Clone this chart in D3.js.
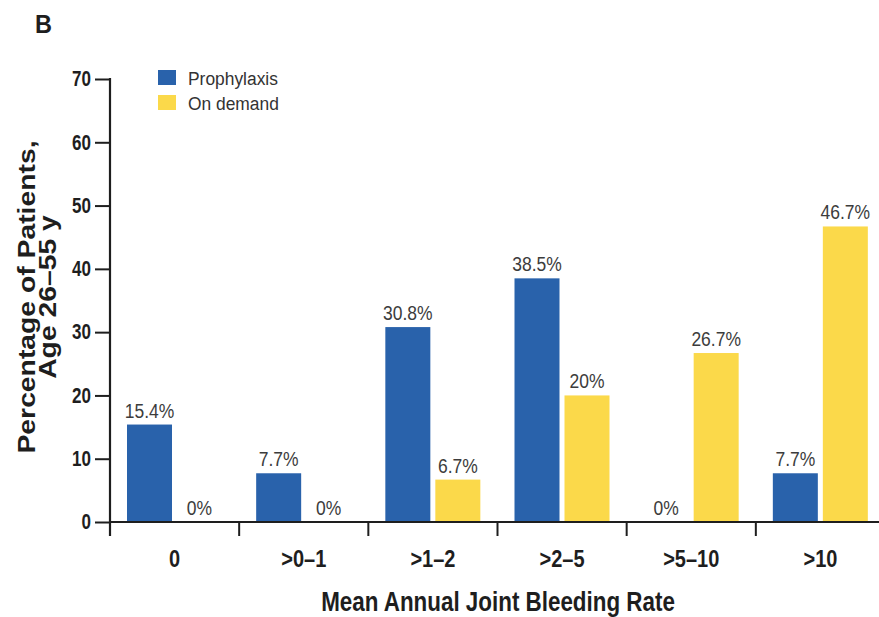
<!DOCTYPE html>
<html>
<head>
<meta charset="utf-8">
<script src="https://cdn.jsdelivr.net/npm/d3@7"></script>
<style>
  html, body { margin: 0; padding: 0; background: #fff; }
  svg { display: block; font-family: "Liberation Sans", Arial, Helvetica, sans-serif; }
</style>
</head>
<body>
<svg id="chart" width="879" height="617"></svg>
<script>
// Mean annual joint bleeding rate bins and share of patients (age 26–55 y)
const categories = ["0", ">0\u20131", ">1\u20132", ">2\u20135", ">5\u201310", ">10"];
const seriesNames = ["Prophylaxis", "On demand"];
const prophylaxis = [15.4, 7.7, 30.8, 38.5, 0, 7.7];
const onDemand = [0, 0, 6.7, 20, 26.7, 46.7];
const valueLabels = [
  ["15.4%", "7.7%", "30.8%", "38.5%", "0%", "7.7%"],
  ["0%", "0%", "6.7%", "20%", "26.7%", "46.7%"]
];
const yTicks = [0, 10, 20, 30, 40, 50, 60, 70];

const colors = ["#2962ab", "#fbd94a"];
const series = [prophylaxis, onDemand];
const ink = "#1e1e1e";
const tall = 1.2; // the typeface is set slightly taller than it is wide

const svg = d3.select("#chart");
const plotLeft = 110, plotRight = 885, plotTop = 79, plotBottom = 522;

const x0 = d3.scaleBand().domain(categories).range([plotLeft, plotRight]);
const x1 = d3.scaleBand().domain(seriesNames).range([17, 112]).paddingInner(0.1);
const y = d3.scaleLinear().domain([0, 70]).range([plotBottom, plotTop]);

// place a text at (x, y) with its glyphs stretched vertically around the baseline
function placeText(parent, x, yPos, str, sy) {
  return parent.append("text")
    .attr("transform", `translate(${x},${yPos}) scale(1,${sy})`)
    .text(str);
}

// Bars with value labels
categories.forEach((c, i) => {
  const g = svg.append("g").attr("transform", `translate(${x0(c)},0)`);
  seriesNames.forEach((s, j) => {
    const v = series[j][i];
    if (v > 0) {
      g.append("rect")
        .attr("x", x1(s))
        .attr("y", y(v))
        .attr("width", x1.bandwidth())
        .attr("height", y(0) - y(v))
        .attr("fill", colors[j]);
    }
    placeText(g, x1(s) + x1.bandwidth() / 2, y(v) - 7, valueLabels[j][i], tall)
      .attr("text-anchor", "middle")
      .attr("font-size", 17.5)
      .attr("fill", "#3c3c3c");
  });
});

// Y axis
const yAxis = svg.append("g")
  .attr("transform", `translate(${plotLeft},0)`)
  .call(d3.axisLeft(y).tickValues(yTicks).tickSize(15).tickPadding(4).tickSizeOuter(0));
yAxis.select(".domain").remove();
yAxis.selectAll("line").attr("stroke", ink).attr("stroke-width", 2);
yAxis.selectAll("text")
  .attr("font-size", 17).attr("font-weight", "bold").attr("fill", ink)
  .attr("font-family", "Liberation Sans, Arial, Helvetica, sans-serif")
  .attr("transform", `scale(1,${tall + 0.05})`);
svg.append("line")
  .attr("x1", plotLeft).attr("x2", plotLeft).attr("y1", y(70) - 1).attr("y2", plotBottom + 14)
  .attr("stroke", ink).attr("stroke-width", 2.2);

// X axis: baseline with ticks at bin boundaries
svg.append("line")
  .attr("x1", plotLeft).attr("x2", 879).attr("y1", plotBottom).attr("y2", plotBottom)
  .attr("stroke", ink).attr("stroke-width", 2.2);
svg.append("g").selectAll("line")
  .data(categories.slice(1))
  .join("line")
  .attr("x1", d => x0(d)).attr("x2", d => x0(d))
  .attr("y1", plotBottom).attr("y2", plotBottom + 14)
  .attr("stroke", ink).attr("stroke-width", 2);
const xLabels = svg.append("g");
categories.forEach(c => {
  placeText(xLabels, x0(c) + x0.bandwidth() / 2, 567, c, tall)
    .attr("text-anchor", "middle")
    .attr("font-size", 20)
    .attr("font-weight", "bold")
    .attr("fill", ink);
});

// Axis titles
placeText(svg, 498, 611, "Mean Annual Joint Bleeding Rate", tall + 0.05)
  .attr("text-anchor", "middle")
  .attr("font-size", 22.4).attr("font-weight", "bold").attr("fill", ink);

const yTitle = svg.append("text")
  .attr("transform", "translate(35,297) rotate(-90) scale(1.18,1)")
  .attr("text-anchor", "middle")
  .attr("font-size", 24).attr("font-weight", "bold").attr("fill", ink);
yTitle.append("tspan").attr("x", 0).attr("dy", 0).text("Percentage of Patients,");
yTitle.append("tspan").attr("x", 0).attr("dy", 21).text("Age 26\u201355 y");

// Panel letter
placeText(svg, 35, 33, "B", 1.07)
  .attr("font-size", 23.5).attr("font-weight", "bold").attr("fill", ink);

// Legend
const legend = svg.append("g").attr("transform", "translate(158,70)");
seriesNames.forEach((s, j) => {
  legend.append("rect")
    .attr("x", 0).attr("y", j * 25)
    .attr("width", 18).attr("height", 15)
    .attr("fill", colors[j]);
  placeText(legend, 30, j * 25 + 15, s, 1.05)
    .attr("font-size", 17.4).attr("fill", "#333");
});
</script>
</body>
</html>
